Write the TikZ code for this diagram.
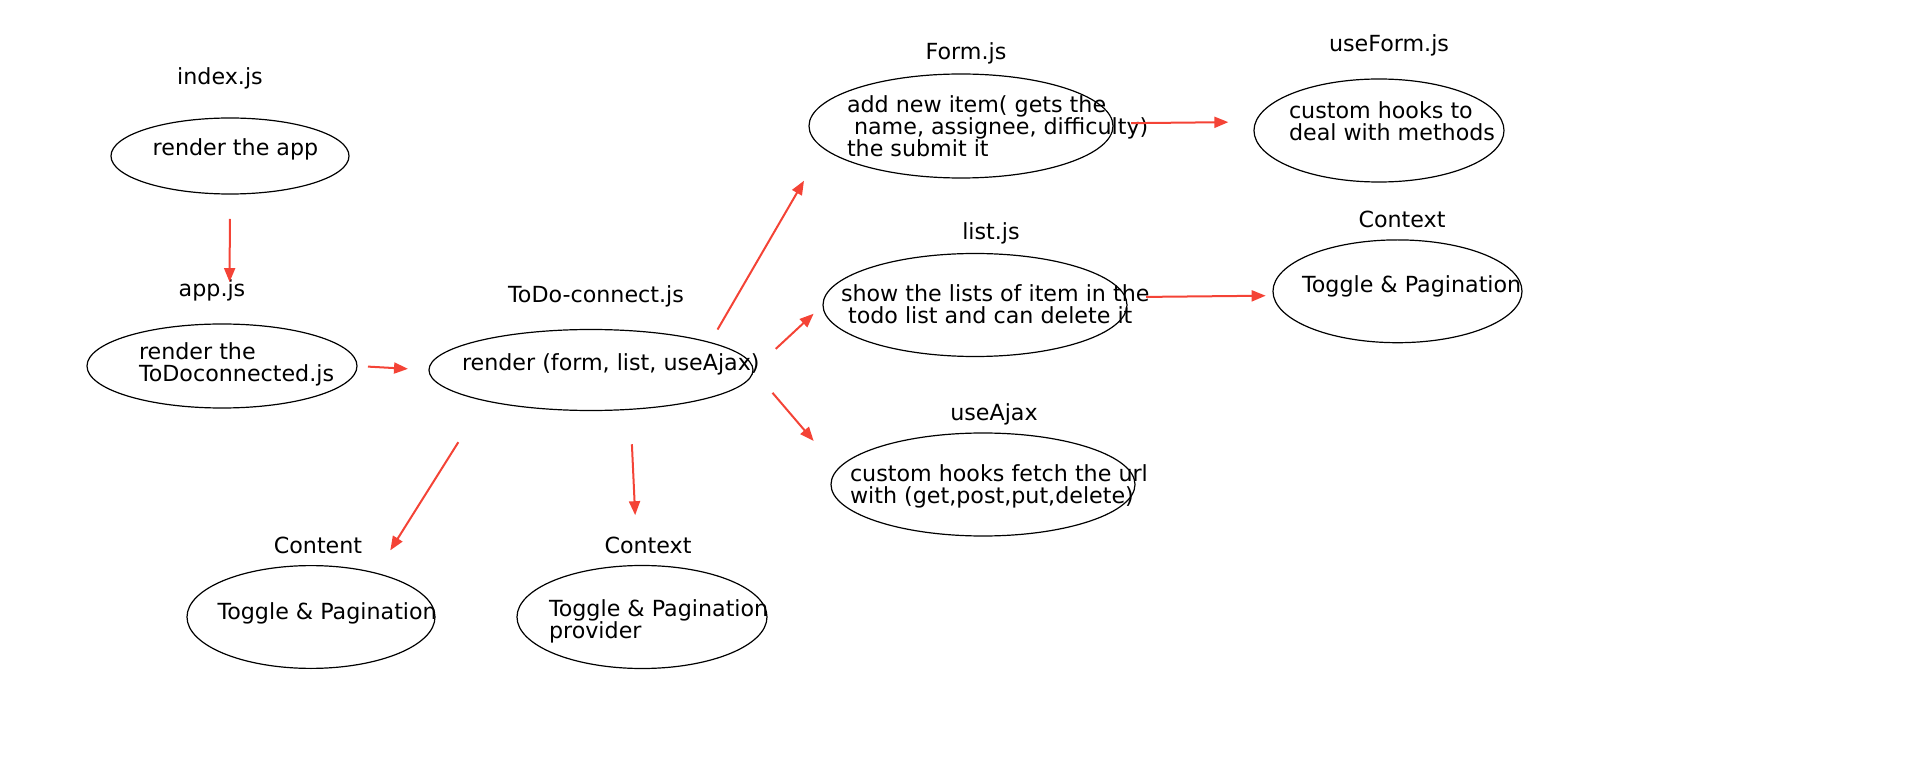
\documentclass[tikz,border=0pt]{standalone}
\usepackage{fontspec}
\setmainfont{DejaVu Sans}
\usetikzlibrary{arrows.meta,shapes.geometric}
\definecolor{arrowred}{RGB}{244,67,54}

\begin{document}
\begin{tikzpicture}[x=0.5pt,y=-0.5pt,
	every node/.style={font=\fontsize{11.1pt}{11pt}\selectfont,inner sep=0,outer sep=0},
	blob/.style={draw,ellipse,line width=0.6pt},
	word/.style={anchor=base west,align=left},
	head/.style={anchor=base},
	link/.style={draw=arrowred,line width=1pt,-{Triangle[length=7pt,width=5.5pt]}}]
	\useasboundingbox (0,0) rectangle (1919,775);
	\node[blob,minimum width=119pt,minimum height=38pt] (1) at (230,156) {};
	\node[blob,minimum width=135pt,minimum height=42pt] (2) at (222,366) {};
	\node[blob,minimum width=162pt,minimum height=40.5pt] (3) at (591,370) {};
	\node[blob,minimum width=152pt,minimum height=52pt] (4) at (961,126) {};
	\node[blob,minimum width=125pt,minimum height=51.5pt] (5) at (1379,130.5) {};
	\node[blob,minimum width=152pt,minimum height=51.5pt] (6) at (975,305) {};
	\node[blob,minimum width=124.5pt,minimum height=51.4pt] (7) at (1397.5,291.3) {};
	\node[blob,minimum width=152pt,minimum height=51.5pt] (8) at (983,484.5) {};
	\node[blob,minimum width=124pt,minimum height=51.4pt] (9) at (311,617) {};
	\node[blob,minimum width=125pt,minimum height=51.5pt] (10) at (642,617) {};
	\node[head] (t1) at (220,85) {index.js};
	\node[head] (t2) at (212,297) {app.js};
	\node[head] (t3) at (596,303) {ToDo-connect.js};
	\node[head] (t4) at (966,60) {Form.js};
	\node[head] (t5) at (1389,52) {useForm.js};
	\node[head] (t6) at (991,240) {list.js};
	\node[head] (t7) at (1402,228) {Context};
	\node[head] (t8) at (994,421) {useAjax};
	\node[head] (t9) at (318,553) {Content};
	\node[head] (t10) at (648,553) {Context};
	\node[word] (x1) at (152.7,156) {render the app};
	\node[word] (x2) at (139,382) {render the\\ToDoconnected.js};
	\node[word] (x3) at (462,371) {render (form, list, useAjax)};
	\node[word] (x4) at (847,157) {add new item( gets the\\\ name, assignee, difficulty)\\the submit it};
	\node[word] (x5) at (1289,141) {custom hooks to\\deal with methods};
	\node[word] (x6) at (841,324) {show the lists of item in the\\\ todo list and can delete it};
	\node[word] (x7) at (1302,293) {Toggle \& Pagination};
	\node[word] (x8) at (850,503) {custom hooks fetch the url\\with (get,post,put,delete)};
	\node[word] (x9) at (217.5,619) {Toggle \& Pagination};
	\node[word] (x10) at (549,638) {Toggle \& Pagination\\provider};
	\draw[link,shorten <=12.5pt,shorten >=21pt] (1.south) -- (2.80.5);
	\draw[link,shorten <=5.5pt,shorten >=10.5pt] (2.east) -- (3.west);
	\draw[link,shorten <=7.5pt,shorten >=19pt] (3.13.6) -- (4.189.2);
	\draw[link,shorten <=9.2pt,shorten >=13.7pt] (4.1.1) -- (5.176.5);
	\draw[link,shorten <=15.5pt,shorten >=6.4pt] (3.east) -- (6.west);
	\draw[link,shorten <=10.4pt,shorten >=3.9pt] (6.3.05) -- (7.182.6);
	\draw[link,shorten <=15pt,shorten >=18.6pt] (3.east) -- (8.174.6);
	\draw[link,shorten <=24.6pt,shorten >=13.5pt] (3.196) -- (9.34.8);
	\draw[link,shorten <=17.5pt,shorten >=25.2pt] (3.315.1) -- (10.95.5);
\end{tikzpicture}
\end{document}
